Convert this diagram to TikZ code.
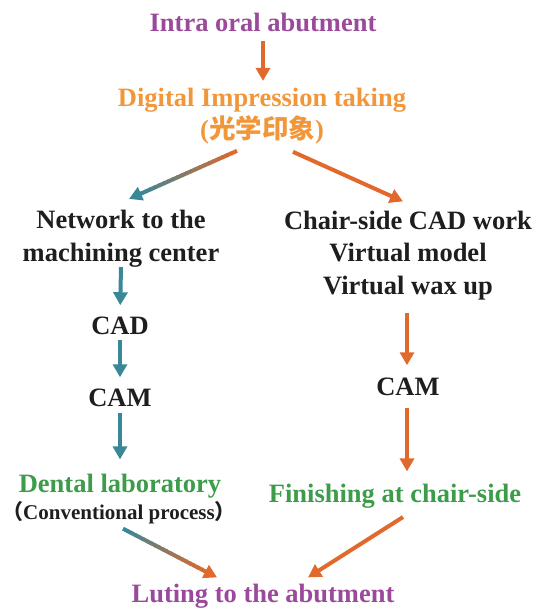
\documentclass[tikz,border=0pt]{standalone}
\usepackage{fontspec}
\setmainfont{Liberation Serif}
\newfontfamily\cjk{Noto Sans CJK SC}
\usetikzlibrary{arrows.meta,calc}

\definecolor{labpurple}{RGB}{155,74,155}
\definecolor{scanorange}{RGB}{242,150,58}
\definecolor{flowor}{RGB}{224,105,43}
\definecolor{flowteal}{RGB}{58,135,152}
\definecolor{labgreen}{RGB}{60,156,74}
\definecolor{textblack}{RGB}{30,30,30}

% arrow whose colour fades from #3 to #4 along the way
\newcommand{\fadearrow}[4]{%
  \foreach \seg in {0,...,21}{
    \pgfmathtruncatemacro\mix{100-\seg*100/21}
    \draw[line width=4pt, #3!\mix!#4] ($(#1)!{\seg/24}!(#2)$) -- ($(#1)!{(\seg+1.3)/24}!(#2)$);
  }
  \draw[flow, #4] ($(#1)!0.9!(#2)$) -- (#2);
}

\begin{document}
\begin{tikzpicture}[x=1pt, y=-1pt,
    stage/.style={font=\bfseries\fontsize{26.5}{32.5}\selectfont, inner sep=0pt, anchor=base, align=center, text=textblack},
    flow/.style={line width=4pt, -{Triangle[width=14pt,length=13pt]}}
]
\useasboundingbox (0,0) rectangle (538,609);

% Top of the chain
\node[stage, text=labpurple] (abut) at (263,32) {Intra oral abutment};
\node[stage, text=scanorange] (scan) at (262,139) {Digital Impression taking\\({\cjk 光学印象})};

% Left branch (laboratory)
\node[stage] (net) at (121,261) {Network to the\\machining center};
\node[stage] (cad) at (120,334) {CAD};
\node[stage] (camL) at (120,406) {CAM};
\node[stage, text=labgreen] (lab) at (120,492) {Dental laboratory};
\node[stage, font=\bfseries\fontsize{21}{26}\selectfont] (conv) at (119,519) {{\cjk （}Conventional process{\cjk ）}};

% Right branch (chair-side)
\node[stage] (chair) at (408,294) {Chair-side CAD work\\Virtual model\\Virtual wax up};
\node[stage] (camR) at (408,395) {CAM};
\node[stage, text=labgreen] (fin) at (395,502) {Finishing at chair-side};

% Bottom
\node[stage, text=labpurple] (lute) at (263,602) {Luting to the abutment};

% Connections
\draw[flow, flowor, shorten <=8pt, shorten >=7pt] (abut.south) -- (abut.south |- scan.north);

\coordinate (fs1) at ([shift={(-25,6)}]scan.south);
\coordinate (fe1) at ([shift={(8,-11)}]net.north);
\fadearrow{fs1}{fe1}{flowor}{flowteal}
\draw[flow, flowor] ([shift={(31,7)}]scan.south) -- ([shift={(-5,-9)}]chair.north);

\draw[flow, flowteal, shorten <=0pt, shorten >=11pt] (net.south) -- (cad.north);
\draw[flow, flowteal, shorten <=6pt, shorten >=11pt] (cad.south) -- (camL.north);
\draw[flow, flowteal, shorten <=7pt, shorten >=14pt] (camL.south) -- (lab.north);

\draw[flow, flowor, shorten <=13pt, shorten >=12pt] ([xshift=-1pt]chair.south) -- ([xshift=-1pt]chair.south |- camR.north);
\draw[flow, flowor, shorten <=13pt, shorten >=12pt] ([xshift=-1pt]camR.south) -- ([xshift=-1pt]camR.south |- fin.north);

\coordinate (fs2) at ([shift={(4,5)}]conv.south);
\coordinate (fe2) at ([shift={(-46,-6)}]lute.north);
\fadearrow{fs2}{fe2}{flowteal}{flowor}
\draw[flow, flowor] ([shift={(8,9)}]fin.south) -- ([shift={(45,-6)}]lute.north);

\end{tikzpicture}
\end{document}
